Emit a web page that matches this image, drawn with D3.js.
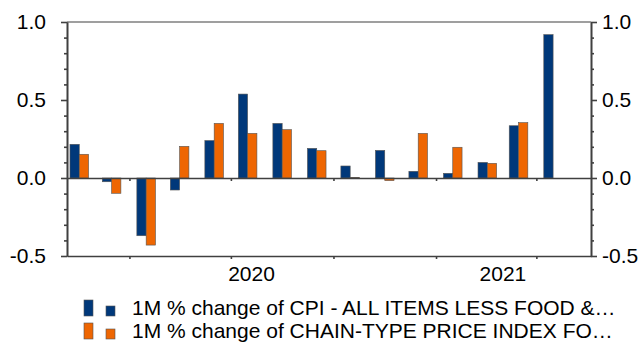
<!DOCTYPE html>
<html>
<head>
<meta charset="utf-8">
<script src="https://cdn.jsdelivr.net/npm/d3@7"></script>
<style>
  body { margin: 0; background: #fff; }
  svg text { font-family: "Liberation Sans", Arial, sans-serif; fill: #000; }
</style>
</head>
<body>
<div class="chart"></div>
<script>
// data
var months = ["2020-02", "2020-03", "2020-04", "2020-05", "2020-06", "2020-07", "2020-08",
  "2020-09", "2020-10", "2020-11", "2020-12", "2021-01", "2021-02", "2021-03", "2021-04"];
var cpiCore = [0.216, -0.024, -0.37, -0.077, 0.24, 0.538, 0.35, 0.19, 0.077, 0.177, 0.043, 0.03, 0.10, 0.335, 0.919];
var pceCore = [0.152, -0.098, -0.43, 0.203, 0.35, 0.286, 0.31, 0.175, 0.004, -0.017, 0.286, 0.197, 0.094, 0.355, null];
var seriesNames = ["1M % change of CPI - ALL ITEMS LESS FOOD &\u2026",
  "1M % change of CHAIN-TYPE PRICE INDEX FO\u2026"];
var yLabels = [-0.5, 0, 0.5, 1.0];
var yMinor = [-0.4, -0.3, -0.2, -0.1, 0.1, 0.2, 0.3, 0.4, 0.6, 0.7, 0.8, 0.9];
var xTickDates = ["2020-04-01", "2020-07-01", "2020-10-01", "2021-01-01", "2021-04-01"];
var yearLabels = [2020, 2021];
var colors = ["#00387a", "#ee6602"];

var width = 641, height = 342;
var mLeft = 67, mRight = 591, mTop = 22, mBottom = 256;
var barW = 9.3;
var fontSize = 21;
var axisCol = "#404040";

var parseM = d3.timeParse("%Y-%m");
var parseD = d3.timeParse("%Y-%m-%d");
// plain hyphen for negatives, like the original
var fmt = function (d) { return d.toFixed(1); };

// mid-month position for every bar group
var mid = months.map(function (m) {
  var d = parseM(m);
  return new Date(d.getFullYear(), d.getMonth(), 16);
});

var x = d3.scaleTime()
  .domain([new Date(2020, 1, 5), new Date(2021, 4, 20)])
  .range([mLeft, mRight]);

var y = d3.scaleLinear()
  .domain([-0.5, 1.0])
  .range([mBottom, mTop]);

var svg = d3.select(".chart")
  .append("svg")
  .attr("width", width)
  .attr("height", height);

// frame top line
svg.append("line")
  .attr("x1", mLeft).attr("x2", mRight)
  .attr("y1", mTop).attr("y2", mTop)
  .attr("stroke", axisCol).attr("stroke-width", 1.2);

// bars
var g = svg.append("g");
var series = [cpiCore, pceCore];
series.forEach(function (vals, s) {
  g.selectAll(".bar" + s)
    .data(vals.map(function (v, i) { return {v: v, d: mid[i]}; }).filter(function (o) { return o.v != null; }))
    .enter().append("rect")
    .attr("class", "bar" + s)
    .attr("x", function (o) { return x(o.d) - barW + s * barW; })
    .attr("y", function (o) { return y(Math.max(0, o.v)); })
    .attr("width", barW)
    .attr("height", function (o) { return Math.abs(y(o.v) - y(0)); })
    .attr("fill", colors[s])
    .attr("stroke", "#555")
    .attr("stroke-width", 0.6);
});

function styleAxis(sel) {
  sel.select(".domain").attr("stroke", axisCol).attr("stroke-width", 1.6);
  sel.selectAll(".tick line").attr("stroke", axisCol).attr("stroke-width", 1.6);
  sel.selectAll(".tick text")
    .attr("font-size", fontSize)
    .attr("font-family", "Liberation Sans, Arial, sans-serif")
    .attr("fill", "#000");
}

// zero line with quarter ticks
var xTicks = xTickDates.map(parseD);
svg.append("g")
  .attr("transform", "translate(0," + y(0) + ")")
  .call(d3.axisBottom(x).tickValues(xTicks).tickSize(3).tickSizeOuter(0).tickFormat(""))
  .call(styleAxis);

// bottom axis
svg.append("g")
  .attr("transform", "translate(0," + mBottom + ")")
  .call(d3.axisBottom(x).tickValues(xTicks).tickSize(3).tickSizeOuter(0).tickFormat(""))
  .call(styleAxis);

// year labels centred on the visible part of each year
var dataEnd = d3.timeMonth.offset(parseM(months[months.length - 1]), 1);
yearLabels.forEach(function (yr) {
  var a = Math.max(x(new Date(yr, 0, 1)), mLeft);
  var b = Math.min(x(new Date(yr + 1, 0, 1)), x(dataEnd));
  svg.append("text")
    .attr("x", (a + b) / 2)
    .attr("y", 281)
    .attr("text-anchor", "middle")
    .attr("font-size", fontSize)
    .text(yr);
});

// left axis
svg.append("g")
  .attr("transform", "translate(" + mLeft + ",0)")
  .call(d3.axisLeft(y).tickValues(yMinor).tickSize(3).tickSizeOuter(0).tickFormat(""))
  .call(styleAxis);
svg.append("g")
  .attr("transform", "translate(" + mLeft + ",0)")
  .call(d3.axisLeft(y).tickValues(yLabels).tickSize(6).tickSizeOuter(0).tickPadding(15).tickFormat(fmt))
  .call(styleAxis);

// right axis
svg.append("g")
  .attr("transform", "translate(" + mRight + ",0)")
  .call(d3.axisRight(y).tickValues(yMinor).tickSize(3).tickSizeOuter(0).tickFormat(""))
  .call(styleAxis);
svg.append("g")
  .attr("transform", "translate(" + mRight + ",0)")
  .call(d3.axisRight(y).tickValues(yLabels).tickSize(6).tickSizeOuter(0).tickPadding(5).tickFormat(fmt))
  .call(styleAxis);

// legend
var leg = svg.append("g");
seriesNames.forEach(function (name, i) {
  var ly = 300 + i * 23;
  leg.append("rect")
    .attr("x", 84).attr("y", ly).attr("width", 9).attr("height", 16)
    .attr("fill", colors[i]).attr("stroke", "#555").attr("stroke-width", 0.6);
  leg.append("rect")
    .attr("x", 106).attr("y", ly + 6).attr("width", 9).attr("height", 10)
    .attr("fill", colors[i]).attr("stroke", "#555").attr("stroke-width", 0.6);
  leg.append("text")
    .attr("x", 132).attr("y", ly + 15)
    .attr("font-size", fontSize)
    .text(name);
});
</script>
</body>
</html>
